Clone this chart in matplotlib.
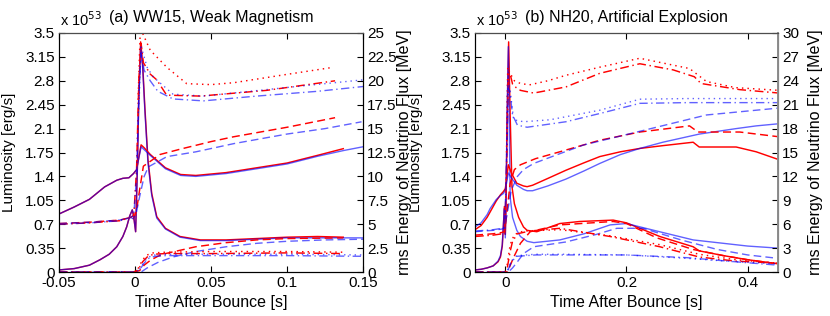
import matplotlib
matplotlib.use("Agg")
import matplotlib.pyplot as plt
from matplotlib.ticker import FuncFormatter

plt.rcParams['font.family'] = ['Liberation Sans', 'DejaVu Sans']
plt.rcParams['font.size'] = 10

# ---------------- (a) WW15, Weak Magnetism ----------------
# luminosities in 1e53 erg/s (left axis), rms energies in MeV (right axis)
a_t_lnue_r = [-0.05, -0.04, -0.03, -0.023, -0.017, -0.012, -0.008, -0.0055, -0.0035, -0.0018, -0.0008,
              0.0004, 0.0015, 0.0025, 0.0037, 0.005, 0.0065, 0.0085, 0.011, 0.0143, 0.02, 0.0296, 0.043,
              0.06, 0.08, 0.1, 0.12, 0.137]
a_lnue_r = [0.03, 0.05, 0.1, 0.18, 0.26, 0.37, 0.52, 0.66, 0.82, 0.91, 0.8, 0.59, 1.5, 2.6, 3.37, 3.05, 2.4,
            1.65, 1.15, 0.81, 0.64, 0.52, 0.47, 0.47, 0.49, 0.51, 0.52, 0.51]
a_t_lnue_b = a_t_lnue_r + [0.15]
a_lnue_b = [0.03, 0.05, 0.1, 0.18, 0.26, 0.37, 0.52, 0.66, 0.82, 0.91, 0.8, 0.59, 1.45, 2.5, 3.3, 3.0, 2.35,
            1.6, 1.12, 0.79, 0.63, 0.51, 0.46, 0.46, 0.48, 0.5, 0.5, 0.5, 0.5]

a_t_lanue_r = [-0.05, -0.001, 0.003, 0.006, 0.01, 0.015, 0.02, 0.03, 0.04, 0.06, 0.08, 0.1, 0.137]
a_lanue_r = [0.0, 0.0, 0.02, 0.1, 0.17, 0.23, 0.27, 0.32, 0.37, 0.43, 0.47, 0.49, 0.5]
a_t_lanue_b = [-0.05, -0.001, 0.004, 0.008, 0.015, 0.025, 0.04, 0.06, 0.08, 0.1, 0.125, 0.15]
a_lanue_b = [0.0, 0.0, 0.0, 0.06, 0.14, 0.22, 0.3, 0.37, 0.42, 0.45, 0.47, 0.48]

a_t_lnux_r = [-0.05, -0.001, 0.002, 0.005, 0.008, 0.012, 0.02, 0.05, 0.1, 0.137]
a_lnux_r = [0.0, 0.0, 0.03, 0.15, 0.22, 0.26, 0.27, 0.27, 0.28, 0.27]
a_t_lnux_b = [-0.05, -0.001, 0.003, 0.006, 0.009, 0.013, 0.02, 0.05, 0.1, 0.15]
a_lnux_b = [0.0, 0.0, 0.03, 0.13, 0.2, 0.23, 0.24, 0.24, 0.24, 0.23]

a_t_lanux_r = [0.002, 0.005, 0.008, 0.012, 0.02, 0.05, 0.1, 0.137]
a_lanux_r = [0.05, 0.18, 0.25, 0.28, 0.29, 0.3, 0.3, 0.29]
a_t_lanux_b = [0.003, 0.006, 0.009, 0.013, 0.02, 0.05, 0.1, 0.15]
a_lanux_b = [0.04, 0.15, 0.22, 0.25, 0.26, 0.26, 0.26, 0.25]

a_t_enue_r = [-0.05, -0.04, -0.03, -0.02, -0.012, -0.008, -0.004, -0.001, 0.001, 0.004, 0.006, 0.01, 0.02,
              0.03, 0.04, 0.06, 0.08, 0.1, 0.12, 0.137]
a_enue_r = [6.07, 6.8, 7.6, 8.9, 9.6, 9.8, 9.86, 10.3, 10.7, 13.3, 13.0, 12.3, 10.9, 10.2, 10.1, 10.4, 10.9,
            11.4, 12.2, 12.9]
a_t_enue_b = a_t_enue_r + [0.15]
a_enue_b = [6.07, 6.8, 7.6, 8.9, 9.6, 9.8, 9.86, 10.3, 10.7, 13.1, 12.8, 12.2, 10.8, 10.1, 10.0, 10.3, 10.8,
            11.3, 12.1, 12.7, 13.1]

a_t_eanue_r = [-0.05, -0.03, -0.01, -0.003, -0.001, 0.001, 0.003, 0.0055, 0.01, 0.0164, 0.03, 0.05, 0.0647,
               0.1, 0.1316]
a_eanue_r = [5.07, 5.21, 5.43, 5.71, 5.57, 6.43, 8.57, 11.07, 11.57, 12.29, 12.86, 13.64, 14.14, 15.14, 16.14]
a_t_eanue_b = [-0.05, -0.03, -0.01, -0.003, -0.001, 0.001, 0.003, 0.006, 0.0088, 0.021, 0.04, 0.065, 0.1,
               0.125, 0.149]
a_eanue_b = [5.07, 5.21, 5.43, 5.71, 5.57, 6.29, 7.86, 10.0, 11.0, 12.07, 12.57, 13.43, 14.43, 15.0, 15.71]

a_t_enux_r = [-0.05, -0.03, -0.01, -0.003, -0.0008, 0.001, 0.0025, 0.004, 0.0055, 0.01, 0.0143, 0.0208,
              0.043, 0.0866, 0.1316]
a_enux_r = [5.0, 5.14, 5.36, 5.71, 5.93, 10.7, 20.0, 23.9, 21.9, 20.7, 20.1, 18.5, 18.4, 19.0, 20.0]
a_t_enux_b = [-0.05, -0.03, -0.01, -0.003, -0.0008, 0.001, 0.0025, 0.004, 0.006, 0.01, 0.015, 0.025, 0.045,
              0.08, 0.12, 0.15]
a_enux_b = [5.0, 5.14, 5.36, 5.71, 5.93, 10.0, 18.6, 22.9, 21.1, 20.0, 18.9, 18.1, 17.9, 18.4, 18.9, 19.4]

a_t_eanux_r = [0.002, 0.0035, 0.01, 0.021, 0.034, 0.05, 0.065, 0.097, 0.13]
a_eanux_r = [18.0, 25.5, 23.2, 21.4, 19.7, 19.6, 19.8, 20.6, 21.4]
a_t_eanux_b = [0.0025, 0.004, 0.008, 0.012, 0.025, 0.045, 0.1, 0.15]
a_eanux_b = [17.0, 23.6, 21.4, 20.4, 18.6, 18.4, 19.3, 20.1]

# ---------------- (b) NH20, Artificial Explosion ----------------
b_t_lnue_r = [-0.05, -0.04, -0.03, -0.02, -0.012, -0.008, -0.005, -0.003, -0.0015, 0.0, 0.001, 0.003,
              0.0055, 0.008, 0.011, 0.015, 0.022, 0.03, 0.036, 0.052, 0.09, 0.123, 0.178, 0.2, 0.255, 0.31,
              0.32, 0.36, 0.4, 0.45]
b_lnue_r = [0.03, 0.04, 0.06, 0.09, 0.15, 0.22, 0.38, 0.7, 0.96, 0.55, 0.9, 2.2, 3.37, 2.3, 1.25, 1.0, 0.8,
            0.66, 0.61, 0.59, 0.71, 0.74, 0.76, 0.72, 0.52, 0.37, 0.31, 0.24, 0.18, 0.12]
b_t_lnue_b = [-0.05, -0.04, -0.03, -0.02, -0.012, -0.008, -0.005, -0.003, -0.0015, 0.0, 0.001, 0.003, 0.005,
              0.008, 0.012, 0.019, 0.025, 0.036, 0.047, 0.09, 0.13, 0.173, 0.2, 0.25, 0.31, 0.36, 0.4, 0.45]
b_lnue_b = [0.03, 0.04, 0.06, 0.09, 0.16, 0.24, 0.4, 0.72, 0.93, 0.5, 0.95, 2.4, 3.3, 1.1, 0.8, 0.61, 0.52,
            0.45, 0.43, 0.47, 0.56, 0.69, 0.71, 0.6, 0.47, 0.42, 0.38, 0.35]

b_t_lanue_r = [-0.05, -0.001, 0.003, 0.005, 0.014, 0.025, 0.041, 0.06, 0.09, 0.178, 0.2, 0.25, 0.31, 0.36,
               0.4, 0.45]
b_lanue_r = [0.0, 0.0, 0.0, 0.03, 0.22, 0.42, 0.59, 0.63, 0.69, 0.74, 0.71, 0.5, 0.33, 0.24, 0.18, 0.12]
b_t_lanue_b = [-0.05, -0.001, 0.005, 0.012, 0.02, 0.03, 0.047, 0.1, 0.15, 0.184, 0.227, 0.29, 0.35, 0.4, 0.45]
b_lanue_b = [0.0, 0.0, 0.0, 0.06, 0.15, 0.27, 0.37, 0.44, 0.55, 0.64, 0.64, 0.47, 0.33, 0.25, 0.2]

b_t_lnux_r = [-0.05, -0.001, 0.003, 0.008, 0.012, 0.02, 0.04, 0.09, 0.173, 0.255, 0.32, 0.38, 0.45]
b_lnux_r = [0.0, 0.0, 0.05, 0.3, 0.45, 0.56, 0.6, 0.64, 0.52, 0.37, 0.22, 0.16, 0.13]
b_t_lnux_b = [-0.05, -0.001, 0.004, 0.01, 0.019, 0.05, 0.1, 0.2, 0.3, 0.38, 0.45]
b_lnux_b = [0.0, 0.0, 0.02, 0.15, 0.23, 0.25, 0.25, 0.25, 0.21, 0.15, 0.1]

b_t_lanux_r = [0.003, 0.008, 0.015, 0.03, 0.09, 0.173, 0.255, 0.32, 0.38, 0.45]
b_lanux_r = [0.1, 0.4, 0.55, 0.6, 0.62, 0.53, 0.4, 0.26, 0.18, 0.13]
b_t_lanux_b = [0.004, 0.01, 0.019, 0.05, 0.1, 0.2, 0.3, 0.38, 0.45]
b_lanux_b = [0.03, 0.16, 0.24, 0.26, 0.26, 0.25, 0.2, 0.15, 0.12]

b_t_enue = [-0.05, -0.04, -0.03, -0.025, -0.015, -0.008, -0.003, 0.0, 0.002, 0.005, 0.01, 0.019, 0.03, 0.036,
            0.045, 0.07, 0.1, 0.13, 0.156, 0.19, 0.222, 0.26, 0.31, 0.32, 0.381, 0.414, 0.45]
b_enue_r = [5.31, 5.83, 6.86, 7.54, 8.91, 9.69, 10.11, 10.46, 11.57, 13.46, 12.43, 11.14, 10.8, 10.71, 10.89,
            11.74, 12.77, 13.71, 14.49, 15.09, 15.51, 15.86, 16.29, 15.69, 15.69, 15.09, 14.14]
b_enue_b = [5.66, 6.17, 7.2, 7.97, 9.09, 9.6, 9.86, 10.29, 11.14, 12.43, 11.83, 10.89, 10.37, 10.2, 10.2,
            10.8, 11.66, 12.69, 13.63, 14.74, 15.51, 16.29, 17.14, 17.31, 18.0, 18.34, 18.6]

b_t_eanue_r = [-0.05, -0.02, -0.005, -0.001, 0.003, 0.008, 0.015, 0.025, 0.05, 0.09, 0.156, 0.222, 0.304,
               0.318, 0.387, 0.452]
b_eanue_r = [4.63, 4.8, 4.97, 5.14, 7.71, 11.14, 12.86, 13.46, 14.23, 15.09, 16.54, 17.57, 18.34, 17.57,
             17.57, 16.97]
b_t_eanue_b = [-0.05, -0.02, -0.005, -0.001, 0.004, 0.01, 0.02, 0.03, 0.047, 0.08, 0.129, 0.222, 0.332, 0.45]
b_eanue_b = [5.06, 5.23, 5.4, 5.57, 7.71, 10.29, 12.0, 12.86, 13.63, 14.57, 15.94, 17.66, 19.71, 20.57]

b_t_enux_r = [-0.05, -0.02, -0.005, -0.001, 0.002, 0.005, 0.008, 0.012, 0.018, 0.025, 0.047, 0.1, 0.156,
              0.222, 0.277, 0.312, 0.323, 0.387, 0.452]
b_enux_r = [4.46, 4.63, 4.8, 4.97, 12.86, 24.86, 24.86, 23.57, 23.14, 22.8, 22.46, 23.23, 24.94, 26.14,
            25.37, 24.51, 23.66, 22.89, 22.46]
b_t_enux_b = [-0.05, -0.02, -0.005, -0.001, 0.002, 0.005, 0.008, 0.012, 0.02, 0.036, 0.1, 0.16, 0.222, 0.3,
              0.45]
b_enux_b = [5.14, 5.31, 5.49, 5.66, 13.71, 23.14, 22.29, 19.71, 18.43, 18.17, 18.86, 19.97, 21.17, 21.26, 21.26]

b_t_eanux_r = [0.002, 0.004, 0.008, 0.015, 0.025, 0.04, 0.07, 0.1, 0.156, 0.222, 0.304, 0.332, 0.38, 0.452]
b_eanux_r = [15.0, 25.71, 24.94, 24.0, 23.66, 23.49, 24.0, 24.69, 25.71, 26.83, 25.54, 23.91, 23.14, 22.8]
b_t_eanux_b = [0.002, 0.004, 0.008, 0.0137, 0.03, 0.074, 0.156, 0.222, 0.3, 0.45]
b_eanux_b = [14.0, 24.0, 22.8, 19.11, 18.86, 19.11, 20.31, 21.69, 21.77, 21.77]

RED = '#ff0000'
BLUE = '#0000ff'
STYLES = {'-': '-', '--': (0, (5.5, 3)), '-.': (0, (6, 2.5, 1, 2.5)), ':': (0, (1, 2.8))}


def pair(ax, t_r, y_r, t_b, y_b, ls):
    # red drawn first, translucent blue on top -> purple where they coincide
    ax.plot(t_r, y_r, color=RED, lw=1.05, linestyle=STYLES[ls])
    ax.plot(t_b, y_b, color=BLUE, lw=1.0, alpha=0.62, linestyle=STYLES[ls])


gfmt = FuncFormatter(lambda v, p: '%g' % v)

fig = plt.figure(figsize=(8.3, 3.16), dpi=100)
ax_a = fig.add_axes([0.0711, 0.1392, 0.3663, 0.7564])
ax_b = fig.add_axes([0.5723, 0.1392, 0.3650, 0.7564])
ax_a2 = ax_a.twinx()
ax_b2 = ax_b.twinx()

# panel (a)
pair(ax_a, a_t_lnue_r, a_lnue_r, a_t_lnue_b, a_lnue_b, '-')
pair(ax_a, a_t_lanue_r, a_lanue_r, a_t_lanue_b, a_lanue_b, '--')
pair(ax_a, a_t_lnux_r, a_lnux_r, a_t_lnux_b, a_lnux_b, '-.')
pair(ax_a, a_t_lanux_r, a_lanux_r, a_t_lanux_b, a_lanux_b, ':')
pair(ax_a2, a_t_enue_r, a_enue_r, a_t_enue_b, a_enue_b, '-')
pair(ax_a2, a_t_eanue_r, a_eanue_r, a_t_eanue_b, a_eanue_b, '--')
pair(ax_a2, a_t_enux_r, a_enux_r, a_t_enux_b, a_enux_b, '-.')
pair(ax_a2, a_t_eanux_r, a_eanux_r, a_t_eanux_b, a_eanux_b, ':')

# panel (b)
pair(ax_b, b_t_lnue_r, b_lnue_r, b_t_lnue_b, b_lnue_b, '-')
pair(ax_b, b_t_lanue_r, b_lanue_r, b_t_lanue_b, b_lanue_b, '--')
pair(ax_b, b_t_lnux_r, b_lnux_r, b_t_lnux_b, b_lnux_b, '-.')
pair(ax_b, b_t_lanux_r, b_lanux_r, b_t_lanux_b, b_lanux_b, ':')
pair(ax_b2, b_t_enue, b_enue_r, b_t_enue, b_enue_b, '-')
pair(ax_b2, b_t_eanue_r, b_eanue_r, b_t_eanue_b, b_eanue_b, '--')
pair(ax_b2, b_t_enux_r, b_enux_r, b_t_enux_b, b_enux_b, '-.')
pair(ax_b2, b_t_eanux_r, b_eanux_r, b_t_eanux_b, b_eanux_b, ':')

lum_ticks = [0, 0.35, 0.7, 1.05, 1.4, 1.75, 2.1, 2.45, 2.8, 3.15, 3.5]
panels = [
    (ax_a, ax_a2, (-0.05, 0.15), [-0.05, 0, 0.05, 0.1, 0.15], 25, [0, 2.5, 5, 7.5, 10, 12.5, 15, 17.5, 20, 22.5, 25],
     '(a) WW15, Weak Magnetism', -0.14, 1.112),
    (ax_b, ax_b2, (-0.05, 0.45), [0, 0.2, 0.4], 30, [0, 3, 6, 9, 12, 15, 18, 21, 24, 27, 30],
     '(b) NH20, Artificial Explosion', -0.172, 1.099),
]
for ax, ax2, xl, xt, emax, et, title, lx, rx in panels:
    ax.set_xlim(*xl)
    ax.set_ylim(0, 3.5)
    ax2.set_ylim(0, emax)
    ax.set_xticks(xt)
    ax.set_yticks(lum_ticks)
    ax2.set_yticks(et)
    for a in (ax, ax2):
        a.xaxis.set_major_formatter(gfmt)
        a.yaxis.set_major_formatter(gfmt)
        a.tick_params(direction='in', length=4, width=0.8, labelsize=11, pad=3)
    ax.tick_params(axis='x', top=True)
    ax.set_xlabel('Time After Bounce [s]', fontsize=11.5)
    ax.xaxis.set_label_coords(0.5, -0.095)
    ax.set_ylabel('Luminosity [erg/s]', fontsize=11)
    ax.yaxis.set_label_coords(lx, 0.5)
    ax2.set_ylabel('rms Energy of Neutrino Flux [MeV]', fontsize=11.5)
    ax2.yaxis.set_label_coords(rx, 0.5)
    ax.text(0.003, 1.03, r'x 10$^{53}$', transform=ax.transAxes, fontsize=10.5, ha='left', va='baseline')
    ax.text(0.166, 1.045, title, transform=ax.transAxes, fontsize=11.5, ha='left', va='baseline')
    for s in ax2.spines.values():
        s.set_linewidth(0.8)
        s.set_color('black')
    ax2.spines['top'].set_color('0.3')

ax_b2.spines['right'].set_color('0.55')
ax_b2.spines['right'].set_linewidth(1.4)

fig.savefig('out.png', dpi=100)
